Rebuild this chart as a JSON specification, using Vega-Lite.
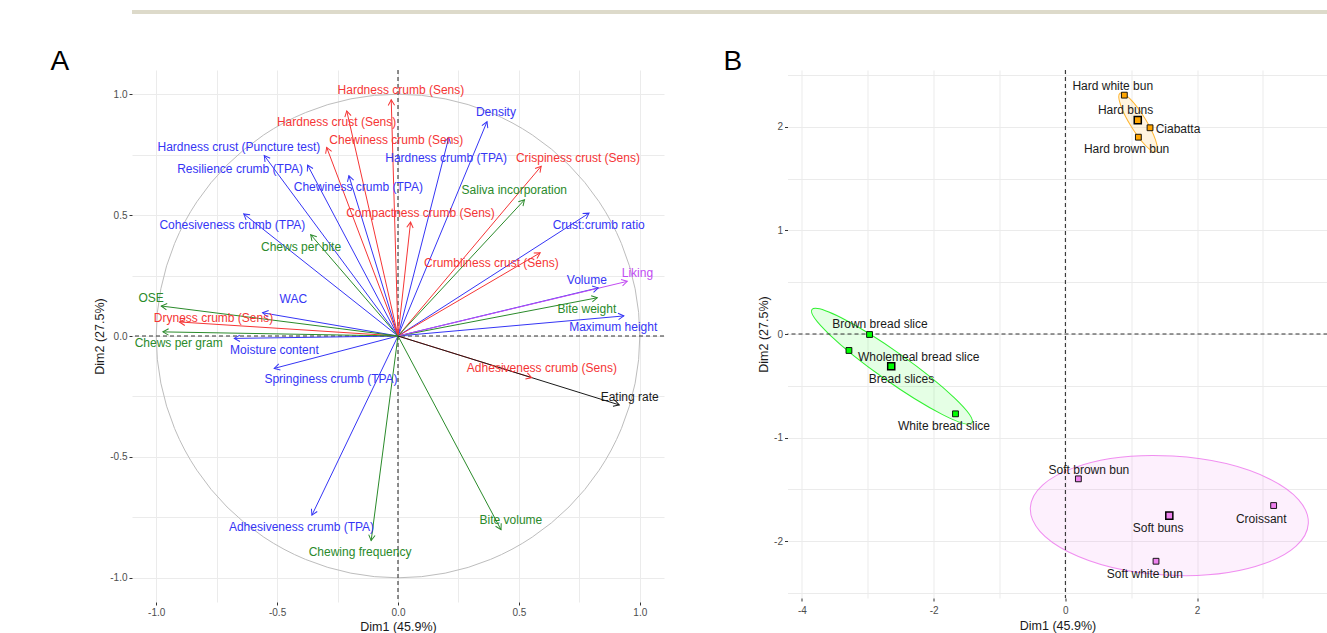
{
  "$schema": "https://vega.github.io/schema/vega-lite/v6.json",
  "background": "white",
  "padding": {"left": 50, "top": 10, "right": 0, "bottom": 0},
  "spacing": 34,
  "columns": 1,
  "align": "none",
  "config": {
    "font": "Liberation Sans",
    "view": {"stroke": null},
    "axis": {
      "domain": false,
      "gridColor": "#EBEBEB",
      "gridWidth": 1,
      "tickColor": "#333333",
      "tickSize": 3,
      "labelColor": "#4D4D4D",
      "labelFontSize": 10,
      "labelFont": "Liberation Sans",
      "labelPadding": 2,
      "titleFont": "Liberation Sans",
      "titleFontSize": 12.5,
      "titleFontWeight": "normal",
      "titleColor": "#1A1A1A",
      "titlePadding": 3
    }
  },
  "datasets": {
    "vars": [
      {"name": "Hardness crust (Puncture test)", "group": "Instrumental", "x": -0.553, "y": 0.746, "lx": -0.658, "ly": 0.780},
      {"name": "Resilience crumb (TPA)", "group": "Instrumental", "x": -0.374, "y": 0.707, "lx": -0.653, "ly": 0.691},
      {"name": "Chewiness crumb (TPA)", "group": "Instrumental", "x": -0.203, "y": 0.663, "lx": -0.164, "ly": 0.618},
      {"name": "Cohesiveness crumb (TPA)", "group": "Instrumental", "x": -0.638, "y": 0.505, "lx": -0.685, "ly": 0.457},
      {"name": "Density", "group": "Instrumental", "x": 0.368, "y": 0.886, "lx": 0.405, "ly": 0.927},
      {"name": "Hardness crumb (TPA)", "group": "Instrumental", "x": 0.210, "y": 0.821, "lx": 0.199, "ly": 0.736},
      {"name": "Crust:crumb ratio", "group": "Instrumental", "x": 0.790, "y": 0.508, "lx": 0.830, "ly": 0.461},
      {"name": "Volume", "group": "Instrumental", "x": 0.828, "y": 0.199, "lx": 0.781, "ly": 0.233},
      {"name": "Maximum height", "group": "Instrumental", "x": 0.934, "y": 0.083, "lx": 0.890, "ly": 0.038},
      {"name": "WAC", "group": "Instrumental", "x": -0.560, "y": 0.096, "lx": -0.433, "ly": 0.151},
      {"name": "Moisture content", "group": "Instrumental", "x": -0.677, "y": -0.010, "lx": -0.511, "ly": -0.056},
      {"name": "Springiness crumb (TPA)", "group": "Instrumental", "x": -0.512, "y": -0.134, "lx": -0.277, "ly": -0.179},
      {"name": "Adhesiveness crumb (TPA)", "group": "Instrumental", "x": -0.356, "y": -0.741, "lx": -0.399, "ly": -0.791},
      {"name": "Hardness crumb (Sens)", "group": "Sensory", "x": -0.028, "y": 0.977, "lx": 0.012, "ly": 1.018},
      {"name": "Hardness crust (Sens)", "group": "Sensory", "x": -0.212, "y": 0.931, "lx": -0.254, "ly": 0.883},
      {"name": "Chewiness crumb (Sens)", "group": "Sensory", "x": -0.295, "y": 0.780, "lx": -0.007, "ly": 0.812},
      {"name": "Compactness crumb (Sens)", "group": "Sensory", "x": 0.052, "y": 0.471, "lx": 0.093, "ly": 0.508},
      {"name": "Crispiness crust (Sens)", "group": "Sensory", "x": 0.592, "y": 0.702, "lx": 0.744, "ly": 0.736},
      {"name": "Crumbliness crust (Sens)", "group": "Sensory", "x": 0.588, "y": 0.344, "lx": 0.386, "ly": 0.302},
      {"name": "Dryness crumb (Sens)", "group": "Sensory", "x": -0.904, "y": 0.058, "lx": -0.763, "ly": 0.075},
      {"name": "Adhesiveness crumb (Sens)", "group": "Sensory", "x": 0.553, "y": -0.172, "lx": 0.595, "ly": -0.134},
      {"name": "Chews per bite", "group": "Oral processing", "x": -0.361, "y": 0.419, "lx": -0.401, "ly": 0.370},
      {"name": "Saliva incorporation", "group": "Oral processing", "x": 0.523, "y": 0.563, "lx": 0.481, "ly": 0.604},
      {"name": "Bite weight", "group": "Oral processing", "x": 0.824, "y": 0.158, "lx": 0.781, "ly": 0.113},
      {"name": "OSE", "group": "Oral processing", "x": -0.979, "y": 0.124, "lx": -1.021, "ly": 0.158},
      {"name": "Chews per gram", "group": "Oral processing", "x": -0.972, "y": 0.017, "lx": -0.907, "ly": -0.031},
      {"name": "Chewing frequency", "group": "Oral processing", "x": -0.111, "y": -0.846, "lx": -0.157, "ly": -0.894},
      {"name": "Bite volume", "group": "Oral processing", "x": 0.426, "y": -0.801, "lx": 0.467, "ly": -0.762},
      {"name": "Liking", "group": "Liking", "x": 0.948, "y": 0.226, "lx": 0.990, "ly": 0.261},
      {"name": "Eating rate", "group": "Eating rate", "x": 0.915, "y": -0.285, "lx": 0.958, "ly": -0.251}
    ],
    "inds": [
      {"name": "Hard white bun", "group": "Hard buns", "kind": "product", "x": 0.895, "y": 2.307, "lx": 0.719, "ly": 2.394},
      {"name": "Hard buns", "group": "Hard buns", "kind": "mean", "x": 1.099, "y": 2.066, "lx": 0.914, "ly": 2.159},
      {"name": "Ciabatta", "group": "Hard buns", "kind": "product", "x": 1.285, "y": 1.992, "lx": 1.710, "ly": 1.976},
      {"name": "Hard brown bun", "group": "Hard buns", "kind": "product", "x": 1.108, "y": 1.901, "lx": 0.929, "ly": 1.789},
      {"name": "Brown bread slice", "group": "Bread slices", "kind": "product", "x": -2.974, "y": -0.005, "lx": -2.816, "ly": 0.092},
      {"name": "Wholemeal bread slice", "group": "Bread slices", "kind": "product", "x": -3.287, "y": -0.159, "lx": -2.228, "ly": -0.220},
      {"name": "Bread slices", "group": "Bread slices", "kind": "mean", "x": -2.645, "y": -0.311, "lx": -2.489, "ly": -0.430},
      {"name": "White bread slice", "group": "Bread slices", "kind": "product", "x": -1.669, "y": -0.771, "lx": -1.844, "ly": -0.891},
      {"name": "Soft brown bun", "group": "Soft buns", "kind": "product", "x": 0.197, "y": -1.399, "lx": 0.357, "ly": -1.316},
      {"name": "Soft buns", "group": "Soft buns", "kind": "mean", "x": 1.578, "y": -1.754, "lx": 1.407, "ly": -1.872},
      {"name": "Croissant", "group": "Soft buns", "kind": "product", "x": 3.162, "y": -1.657, "lx": 2.974, "ly": -1.783},
      {"name": "Soft white bun", "group": "Soft buns", "kind": "product", "x": 1.376, "y": -2.195, "lx": 1.206, "ly": -2.314}
    ],
    "ellipses": [
      {"group": "Hard buns", "x": 1.103, "y": 2.044},
      {"group": "Bread slices", "x": -2.634, "y": -0.311},
      {"group": "Soft buns", "x": 1.578, "y": -1.754}
    ]
  },
  "concat": [
    {
      "width": 1195,
      "height": 4,
      "view": {"fill": "#DDDACA", "stroke": null},
      "data": {"values": []},
      "mark": {"type": "rule"},
      "encoding": {}
    },
    {
      "spacing": 58.5,
      "resolve": {"scale": {"color": "independent"}},
      "hconcat": [
        {
          "width": 532,
          "height": 532,
          "title": {"text": "A", "anchor": "start", "frame": "group", "dx": -81.5, "dy": 6, "offset": -29, "baseline": "bottom", "fontSize": 28, "fontWeight": "normal", "font": "Liberation Sans", "color": "#000000"},
          "layer": [
            {
              "data": {"values": [{"cx": 0, "cy": 0}]},
              "mark": {"type": "point", "shape": "circle", "size": 233869, "filled": false, "stroke": "#BDBDBD", "strokeWidth": 1, "opacity": 1},
              "encoding": {
                "x": {"field": "cx", "type": "quantitative", "scale": {"domain": [-1.1, 1.1], "nice": false, "zero": false},
                  "axis": {"title": "Dim1 (45.9%)", "values": [-1, -0.75, -0.5, -0.25, 0, 0.25, 0.5, 0.75, 1], "labelExpr": "datum.value % 0.5 === 0 ? replace(format(datum.value, '.1f'), '\u2212', '-') : ''", "tickOpacity": {"condition": {"test": "datum.value % 0.5 === 0", "value": 1}, "value": 0}}},
                "y": {"field": "cy", "type": "quantitative", "scale": {"domain": [-1.1, 1.1], "nice": false, "zero": false},
                  "axis": {"title": "Dim2 (27.5%)", "values": [-1, -0.75, -0.5, -0.25, 0, 0.25, 0.5, 0.75, 1], "labelExpr": "datum.value % 0.5 === 0 ? replace(format(datum.value, '.1f'), '\u2212', '-') : ''", "tickOpacity": {"condition": {"test": "datum.value % 0.5 === 0", "value": 1}, "value": 0}}}
              }
            },
            {
              "data": {"values": [{}]},
              "mark": {"type": "rule", "strokeDash": [4, 3], "color": "#333333", "strokeWidth": 1.1},
              "encoding": {"x": {"datum": 0, "type": "quantitative", "scale": {"domain": [-1.1, 1.1], "nice": false, "zero": false}, "axis": {"title": "Dim1 (45.9%)", "values": [-1, -0.75, -0.5, -0.25, 0, 0.25, 0.5, 0.75, 1], "labelExpr": "datum.value % 0.5 === 0 ? replace(format(datum.value, '.1f'), '\u2212', '-') : ''", "tickOpacity": {"condition": {"test": "datum.value % 0.5 === 0", "value": 1}, "value": 0}}}}
            },
            {
              "data": {"values": [{}]},
              "mark": {"type": "rule", "strokeDash": [4, 3], "color": "#333333", "strokeWidth": 1.1},
              "encoding": {"y": {"datum": 0, "type": "quantitative", "scale": {"domain": [-1.1, 1.1], "nice": false, "zero": false}, "axis": {"title": "Dim2 (27.5%)", "values": [-1, -0.75, -0.5, -0.25, 0, 0.25, 0.5, 0.75, 1], "labelExpr": "datum.value % 0.5 === 0 ? replace(format(datum.value, '.1f'), '\u2212', '-') : ''", "tickOpacity": {"condition": {"test": "datum.value % 0.5 === 0", "value": 1}, "value": 0}}}}
            },
            {
              "data": {"name": "vars"},
              "mark": {"type": "rule", "strokeWidth": 1},
              "encoding": {
                "x": {"field": "x", "type": "quantitative", "scale": {"domain": [-1.1, 1.1], "nice": false, "zero": false}, "title": "Dim1 (45.9%)"},
                "y": {"field": "y", "type": "quantitative", "scale": {"domain": [-1.1, 1.1], "nice": false, "zero": false}, "title": "Dim2 (27.5%)"},
                "x2": {"datum": 0},
                "y2": {"datum": 0},
                "color": {"field": "group", "type": "nominal", "scale": {"domain": ["Instrumental", "Sensory", "Oral processing", "Liking", "Eating rate"], "range": ["#3535F5", "#F53535", "#2A8A2A", "#C24CF2", "#1A1A1A"]}, "legend": null}
              }
            },
            {
              "data": {"name": "vars"},
              "transform": [{"calculate": "90 - atan2(datum.y, datum.x) * 180 / PI", "as": "ang"}],
              "mark": {"type": "point", "shape": "M-0.8,1.4L0,0L0.8,1.4", "size": 64, "filled": false, "strokeWidth": 1, "opacity": 1},
              "encoding": {
                "x": {"field": "x", "type": "quantitative", "scale": {"domain": [-1.1, 1.1], "nice": false, "zero": false}, "title": "Dim1 (45.9%)"},
                "y": {"field": "y", "type": "quantitative", "scale": {"domain": [-1.1, 1.1], "nice": false, "zero": false}, "title": "Dim2 (27.5%)"},
                "angle": {"field": "ang", "type": "quantitative", "scale": null},
                "color": {"field": "group", "type": "nominal", "scale": {"domain": ["Instrumental", "Sensory", "Oral processing", "Liking", "Eating rate"], "range": ["#3535F5", "#F53535", "#2A8A2A", "#C24CF2", "#1A1A1A"]}, "legend": null}
              }
            },
            {
              "data": {"name": "vars"},
              "mark": {"type": "text", "fontSize": 12, "font": "Liberation Sans", "align": "center", "baseline": "middle"},
              "encoding": {
                "x": {"field": "lx", "type": "quantitative", "scale": {"domain": [-1.1, 1.1], "nice": false, "zero": false}, "title": "Dim1 (45.9%)"},
                "y": {"field": "ly", "type": "quantitative", "scale": {"domain": [-1.1, 1.1], "nice": false, "zero": false}, "title": "Dim2 (27.5%)"},
                "text": {"field": "name", "type": "nominal"},
                "color": {"field": "group", "type": "nominal", "scale": {"domain": ["Instrumental", "Sensory", "Oral processing", "Liking", "Eating rate"], "range": ["#3535F5", "#F53535", "#2A8A2A", "#C24CF2", "#1A1A1A"]}, "legend": null}
              }
            }
          ]
        },
        {
          "width": 540,
          "height": 528,
          "title": {"text": "B", "anchor": "start", "frame": "group", "dx": -64, "dy": 6, "offset": -29, "baseline": "bottom", "fontSize": 28, "fontWeight": "normal", "font": "Liberation Sans", "color": "#000000"},
          "layer": [
            {
              "data": {"name": "ellipses"},
              "transform": [{"filter": "datum.group === 'Hard buns'"}],
              "mark": {"type": "point", "shape": "M-34.3,0A34.3,8,0,1,1,34.3,0A34.3,8,0,1,1,-34.3,0Z", "size": 4, "angle": 58.3, "filled": true, "fill": "#FFA500", "fillOpacity": 0.12, "stroke": "#FFA500", "strokeOpacity": 0.8, "strokeWidth": 1, "opacity": 1},
              "encoding": {
                "x": {"field": "x", "type": "quantitative", "scale": {"domain": [-4.22, 3.98], "nice": false, "zero": false},
                  "axis": {"title": "Dim1 (45.9%)", "values": [-4, -3, -2, -1, 0, 1, 2, 3], "labelExpr": "datum.value % 2 === 0 ? replace(format(datum.value, 'd'), '\u2212', '-') : ''", "tickOpacity": {"condition": {"test": "datum.value % 2 === 0", "value": 1}, "value": 0}, "labelPadding": 4, "titlePadding": 4}},
                "y": {"field": "y", "type": "quantitative", "scale": {"domain": [-2.55, 2.55], "nice": false, "zero": false},
                  "axis": {"title": "Dim2 (27.5%)", "values": [-2.5, -2, -1.5, -1, -0.5, 0, 0.5, 1, 1.5, 2, 2.5], "labelExpr": "datum.value % 1 === 0 ? replace(format(datum.value, 'd'), '\u2212', '-') : ''", "tickOpacity": {"condition": {"test": "datum.value % 1 === 0", "value": 1}, "value": 0}}}
              }
            },
            {
              "data": {"name": "ellipses"},
              "transform": [{"filter": "datum.group === 'Bread slices'"}],
              "mark": {"type": "point", "shape": "M-98,0A98,14.5,0,1,1,98,0A98,14.5,0,1,1,-98,0Z", "size": 4, "angle": 35.3, "filled": true, "fill": "#00FF00", "fillOpacity": 0.1, "stroke": "#00EE00", "strokeOpacity": 0.8, "strokeWidth": 1, "opacity": 1},
              "encoding": {
                "x": {"field": "x", "type": "quantitative", "scale": {"domain": [-4.22, 3.98], "nice": false, "zero": false}, "title": "Dim1 (45.9%)"},
                "y": {"field": "y", "type": "quantitative", "scale": {"domain": [-2.55, 2.55], "nice": false, "zero": false}, "title": "Dim2 (27.5%)"}
              }
            },
            {
              "data": {"name": "ellipses"},
              "transform": [{"filter": "datum.group === 'Soft buns'"}],
              "mark": {"type": "point", "shape": "M-139.2,0A139.2,59.6,0,1,1,139.2,0A139.2,59.6,0,1,1,-139.2,0Z", "size": 4, "angle": 3.3, "filled": true, "fill": "#EE82EE", "fillOpacity": 0.12, "stroke": "#EE82EE", "strokeOpacity": 0.9, "strokeWidth": 1, "opacity": 1},
              "encoding": {
                "x": {"field": "x", "type": "quantitative", "scale": {"domain": [-4.22, 3.98], "nice": false, "zero": false}, "title": "Dim1 (45.9%)"},
                "y": {"field": "y", "type": "quantitative", "scale": {"domain": [-2.55, 2.55], "nice": false, "zero": false}, "title": "Dim2 (27.5%)"}
              }
            },
            {
              "data": {"values": [{}]},
              "mark": {"type": "rule", "strokeDash": [4, 3], "color": "#333333", "strokeWidth": 1.1},
              "encoding": {"x": {"datum": 0, "type": "quantitative", "scale": {"domain": [-4.22, 3.98], "nice": false, "zero": false}, "title": "Dim1 (45.9%)"}}
            },
            {
              "data": {"values": [{}]},
              "mark": {"type": "rule", "strokeDash": [4, 3], "color": "#333333", "strokeWidth": 1.1},
              "encoding": {"y": {"datum": 0, "type": "quantitative", "scale": {"domain": [-2.55, 2.55], "nice": false, "zero": false}, "title": "Dim2 (27.5%)"}}
            },
            {
              "data": {"name": "inds"},
              "transform": [{"filter": "datum.kind === 'product'"}],
              "mark": {"type": "point", "shape": "square", "size": 34, "filled": true, "stroke": "#000000", "strokeWidth": 0.9, "opacity": 1},
              "encoding": {
                "x": {"field": "x", "type": "quantitative", "scale": {"domain": [-4.22, 3.98], "nice": false, "zero": false}, "title": "Dim1 (45.9%)"},
                "y": {"field": "y", "type": "quantitative", "scale": {"domain": [-2.55, 2.55], "nice": false, "zero": false}, "title": "Dim2 (27.5%)"},
                "color": {"field": "group", "type": "nominal", "scale": {"domain": ["Hard buns", "Bread slices", "Soft buns"], "range": ["#FFA500", "#00FF00", "#EE82EE"]}, "legend": null}
              }
            },
            {
              "data": {"name": "inds"},
              "transform": [{"filter": "datum.kind === 'mean'"}],
              "mark": {"type": "point", "shape": "square", "size": 50, "filled": true, "stroke": "#000000", "strokeWidth": 1.5, "opacity": 1},
              "encoding": {
                "x": {"field": "x", "type": "quantitative", "scale": {"domain": [-4.22, 3.98], "nice": false, "zero": false}, "title": "Dim1 (45.9%)"},
                "y": {"field": "y", "type": "quantitative", "scale": {"domain": [-2.55, 2.55], "nice": false, "zero": false}, "title": "Dim2 (27.5%)"},
                "color": {"field": "group", "type": "nominal", "scale": {"domain": ["Hard buns", "Bread slices", "Soft buns"], "range": ["#FFA500", "#00FF00", "#EE82EE"]}, "legend": null}
              }
            },
            {
              "data": {"name": "inds"},
              "mark": {"type": "text", "fontSize": 12, "font": "Liberation Sans", "align": "center", "baseline": "middle", "color": "#1A1A1A"},
              "encoding": {
                "x": {"field": "lx", "type": "quantitative", "scale": {"domain": [-4.22, 3.98], "nice": false, "zero": false}, "title": "Dim1 (45.9%)"},
                "y": {"field": "ly", "type": "quantitative", "scale": {"domain": [-2.55, 2.55], "nice": false, "zero": false}, "title": "Dim2 (27.5%)"},
                "text": {"field": "name", "type": "nominal"}
              }
            }
          ]
        }
      ]
    }
  ]
}
